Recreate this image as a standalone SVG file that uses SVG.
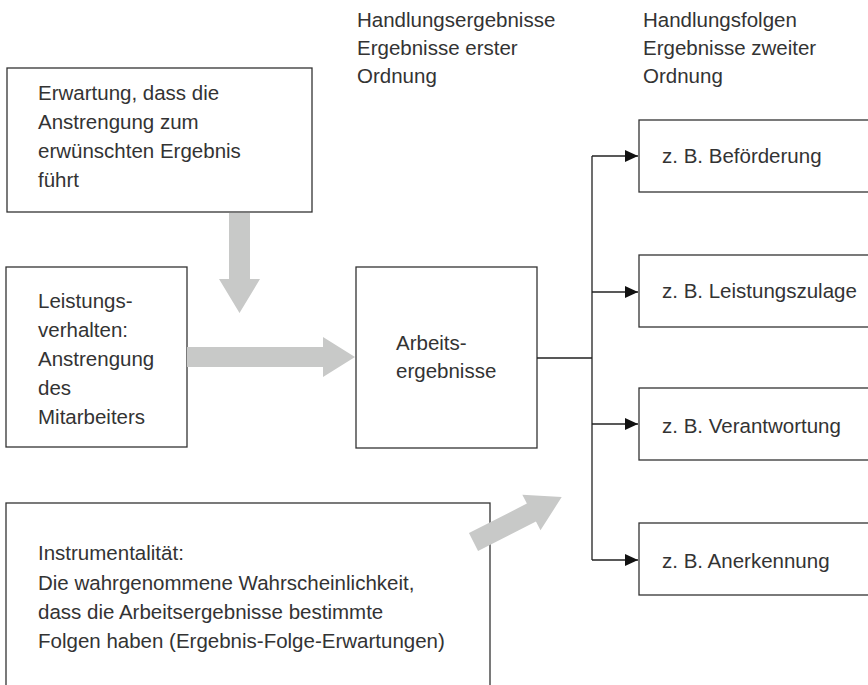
<svg xmlns="http://www.w3.org/2000/svg" width="868" height="685" viewBox="0 0 868 685">
<style>
text{font-family:"Liberation Sans",Arial,sans-serif;font-size:20.5px;fill:#333}
.box{fill:#fff;stroke:#333;stroke-width:1.3}
.ln{fill:none;stroke:#222;stroke-width:1.3}
.g{fill:#c8c9c8}
</style>
<defs>
<marker id="ah" markerWidth="14" markerHeight="12" refX="13" refY="6" orient="auto" markerUnits="userSpaceOnUse">
<path d="M0,0 L13,6 L0,12 Z" fill="#111"/>
</marker>
</defs>
<g id="header1">
<text x="357" y="27">Handlungsergebnisse</text>
<text x="357" y="55">Ergebnisse erster</text>
<text x="357" y="83">Ordnung</text>
</g>
<g id="header2">
<text x="643" y="27">Handlungsfolgen</text>
<text x="643" y="55">Ergebnisse zweiter</text>
<text x="643" y="83">Ordnung</text>
</g>
<g id="erwartung">
<rect class="box" x="7" y="68" width="305" height="144"/>
<text x="38" y="100">Erwartung, dass die</text>
<text x="38" y="129">Anstrengung zum</text>
<text x="38" y="158">erwünschten Ergebnis</text>
<text x="38" y="187">führt</text>
</g>
<g id="leistung">
<rect class="box" x="6" y="267" width="181" height="180"/>
<text x="38" y="308">Leistungs-</text>
<text x="38" y="337">verhalten:</text>
<text x="38" y="366">Anstrengung</text>
<text x="38" y="395">des</text>
<text x="38" y="424">Mitarbeiters</text>
</g>
<g id="arbeit">
<rect class="box" x="356" y="267" width="181" height="181"/>
<text x="396" y="350">Arbeits-</text>
<text x="396" y="378">ergebnisse</text>
</g>
<g id="instrumentalitaet">
<rect class="box" x="6" y="503" width="484" height="200"/>
<text x="38" y="560">Instrumentalität:</text>
<text x="38" y="590">Die wahrgenommene Wahrscheinlichkeit,</text>
<text x="38" y="619">dass die Arbeitsergebnisse bestimmte</text>
<text x="38" y="648">Folgen haben (Ergebnis-Folge-Erwartungen)</text>
</g>
<g id="befoerderung">
<rect class="box" x="639" y="120" width="240" height="72"/>
<text x="662" y="163">z. B. Beförderung</text>
</g>
<g id="zulage">
<rect class="box" x="639" y="255" width="240" height="72"/>
<text x="662" y="298">z. B. Leistungszulage</text>
</g>
<g id="verantwortung">
<rect class="box" x="639" y="388" width="240" height="72"/>
<text x="662" y="433">z. B. Verantwortung</text>
</g>
<g id="anerkennung">
<rect class="box" x="639" y="523" width="240" height="72"/>
<text x="662" y="568">z. B. Anerkennung</text>
</g>
<g id="connectors">
<polygon class="g" points="229,213 250,213 250,279 260,279 239.5,313 219,279 229,279"/>
<polygon class="g" points="187,347 323,347 323,337 355,357 323,377 323,367 187,367"/>
<polygon class="g" transform="translate(473.5,542) rotate(-27)" points="0,-10 65,-10 65,-20 99,0 65,20 65,10 0,10"/>
<path class="ln" d="M537,358 H592 M592,156 V560"/>
<path class="ln" d="M592,156 H638" marker-end="url(#ah)"/>
<path class="ln" d="M592,292 H638" marker-end="url(#ah)"/>
<path class="ln" d="M592,424 H638" marker-end="url(#ah)"/>
<path class="ln" d="M592,560 H638" marker-end="url(#ah)"/>
</g>
</svg>
